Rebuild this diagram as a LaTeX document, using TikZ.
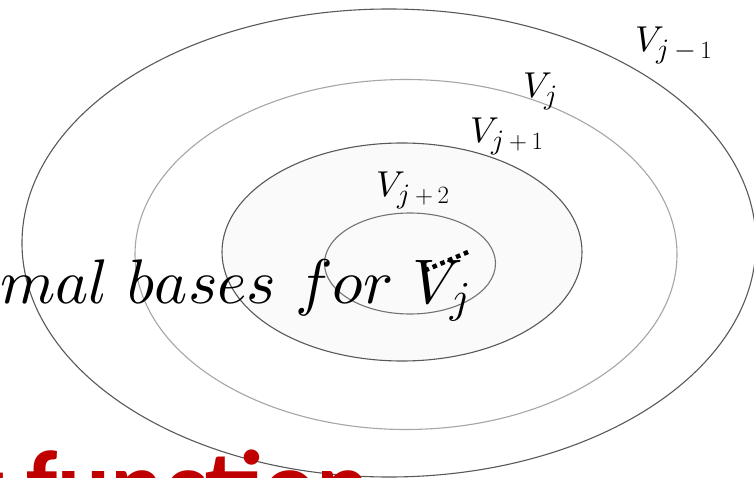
\documentclass[tikz,border=0pt]{standalone}
\usepackage{amsmath,amssymb}
\usepackage{fontspec}
\usepackage{xcolor}
\usepackage{tikz}
\usetikzlibrary{calc}
% scalable math fonts
\DeclareFontFamily{OML}{cmm}{\skewchar\font127}
\DeclareFontShape{OML}{cmm}{m}{it}{<->cmmi10}{}
\DeclareFontShape{OML}{cmm}{b}{it}{<->cmmib10}{}
\DeclareFontFamily{OMS}{cmsy}{\skewchar\font48}
\DeclareFontShape{OMS}{cmsy}{m}{n}{<->cmsy10}{}
\DeclareFontShape{OMS}{cmsy}{b}{n}{<->cmbsy10}{}
\DeclareMathSizes{36}{36}{28}{20}
\newfontfamily\titlefont{Carlito}
\definecolor{slidered}{HTML}{C00000}

\begin{document}
\begin{tikzpicture}[
  x=1pt, y=-1pt,
  ring/.style={line width=1.1pt},
  lbl/.style={anchor=base west, inner sep=0pt, font=\fontsize{36}{40}\selectfont},
  big/.style={anchor=base west, inner sep=0pt, font=\fontsize{63}{70}\selectfont},
  head/.style={anchor=base east, inner sep=0pt, text=slidered,
               font=\titlefont\bfseries\fontsize{99}{104}\selectfont}]
  \useasboundingbox (0,0) rectangle (754,478);
  \clip (0,0) rectangle (754,478);
  % nested subspaces
  \draw[ring, draw=black!65, fill=white] (389,243) ellipse [x radius=367, y radius=234];
  \draw[ring, draw=black!35] (406,254.5) ellipse [x radius=271, y radius=175];
  \draw[ring, draw=black!65, fill=black!2] (402,252) ellipse [x radius=180, y radius=109];
  \draw[ring, draw=black!55, fill=black!2] (410,263.5) ellipse [x radius=85.5, y radius=50.5];
  \node[lbl] (vjm) at (635,52) {$V_{j\,-\,1}$};
  \node[lbl] (vj) at (523,98) {$V_j$};
  \node[lbl] (vjp) at (470,143) {$V_{j\,+\,1}$};
  \node[lbl] (vjpp) at (376,197) {$V_{j\,+\,2}$};
  % cut-off slide text
  \node[big] (bases) at (0,303) {$mal\ bases\ for\ V_j$};
  \node[head] (func) at (370,519) {g function};
  \draw[line width=4.5pt, dash pattern=on 4.5pt off 4pt] (468,252) -- (426,270);
\end{tikzpicture}
\end{document}
